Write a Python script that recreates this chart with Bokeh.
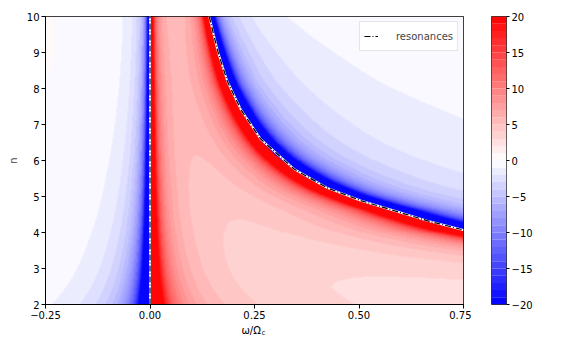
import numpy as np
from bokeh.plotting import figure
from bokeh.layouts import row, column
from bokeh.models import (LinearColorMapper, FixedTicker, Range1d, Legend, LegendItem)
from bokeh.core.properties import value
from bokeh.embed import file_html
from bokeh.resources import INLINE

# ---- resonance curve (n, omega/Omega_c) ----
res_n = [10.0, 9.0, 8.2, 7.43, 6.6, 5.77, 5.24, 4.89, 4.61, 4.33, 4.07]
res_w = [0.1416, 0.163, 0.185, 0.2167, 0.2644, 0.3439, 0.4237, 0.5033, 0.583, 0.6625, 0.75]
# the zero-frequency resonance
zero_n = [2.0, 10.0]
zero_w = [0.0, 0.0]
# estimated continuation of the resonance below the visible range (field only)
ext_n = [2.0, 2.5, 3.0, 3.5]
ext_w = [6.0, 3.3, 1.8, 1.1]

# field strength parameters (estimated from colour band widths)
amp_zero = 1.12                              # strength of the omega=0 pole ...
amp_zero_pow = 0.9                           # ... divided by n**pow
amp_n = [2.0, 4.0, 5.0, 6.0, 7.0, 10.0]     # strength of the second pole / its position
amp_v = [2.0, 1.8, 2.2, 2.3, 2.0, 1.8]
off_n = [2.0, 3.0, 5.0, 7.0, 10.0]           # background level
off_v = [-0.3, -0.45, -0.45, -0.2, -0.1]

x_ticks = [-0.25, 0.0, 0.25, 0.5, 0.75]
x_tick_labels = ["\u22120.25", "0.00", "0.25", "0.50", "0.75"]
y_ticks = [2, 3, 4, 5, 6, 7, 8, 9, 10]
cb_ticks = [-20, -15, -10, -5, 0, 5, 10, 15, 20]
cb_tick_labels = ["\u221220", "\u221215", "\u221210", "\u22125", "0", "5", "10", "15", "20"]
vmin, vmax, nlev = -20, 20, 40
x_label_main = "\u03c9/\u03a9"
x_label_sub = "c"
y_label = "n"
legend_label = "resonances"

FONT = "DejaVu Sans"

# ---- field ----
fn = np.array(ext_n + res_n[::-1])
finv = 1.0 / np.array(ext_w + res_w[::-1])
amp_fit = np.polyfit(amp_n, amp_v, 3)
off_fit = np.polyfit(off_n, off_v, 2)

nx, ny = 840, 580
xs = np.linspace(-0.25, 0.75, nx)
ys = np.linspace(2, 10, ny)
W, N = np.meshgrid(xs, ys)
xr = 1.0 / np.interp(N, fn, finv)
A = amp_zero / N ** amp_zero_pow
B = np.polyval(amp_fit, N) * xr
C = np.polyval(off_fit, N)
with np.errstate(divide="ignore", invalid="ignore"):
    Z = A / W + B / (xr - W) + C
Z = np.nan_to_num(Z, nan=0.0, posinf=1e3, neginf=-1e3)
Z = np.clip(Z, -19.999, 19.999)


def bwr(t):
    if t < 0.5:
        r = g = 2 * t
        b = 1.0
    else:
        r = 1.0
        g = b = 2 * (1 - t)
    return "#%02x%02x%02x" % (int(round(r * 255)), int(round(g * 255)), int(round(b * 255)))


levels = np.linspace(vmin, vmax, nlev + 1)
palette = [bwr((i + 0.5) / nlev) for i in range(nlev)]
mapper = LinearColorMapper(palette=palette, low=vmin, high=vmax)

BT, BB = 16, 19
H = BT + 288 + BB

# ---- main plot ----
p = figure(width=471, height=H, output_backend="svg", toolbar_location=None,
           x_range=Range1d(-0.25, 0.75), y_range=Range1d(2, 10),
           min_border_left=45, min_border_top=BT, min_border_bottom=BB, min_border_right=8)
p.image(image=[Z], x=-0.25, y=2, dw=1.0, dh=8, color_mapper=mapper)

p.line(zero_w, zero_n, line_color="white", line_width=2)
p.line(res_w, res_n, line_color="white", line_width=2)
r1 = p.line(zero_w, zero_n, line_color="black", line_width=1.2, line_dash="6 2 1 2")
r2 = p.line(res_w, res_n, line_color="black", line_width=1.2, line_dash="6 2 1 2")

legend = Legend(items=[LegendItem(label=legend_label, renderers=[r1])],
                location="top_right", margin=5, padding=4, glyph_width=14,
                label_standoff=18, label_text_font=FONT,
                label_text_font_size="10px", border_line_color="#cccccc",
                border_line_width=1, background_fill_alpha=0.9)
p.add_layout(legend, "center")

p.grid.visible = False
p.outline_line_color = "black"
p.outline_line_width = 1
for ax in (p.xaxis, p.yaxis):
    ax.major_label_text_font = FONT
    ax.major_label_text_font_size = "10px"
    ax.major_label_text_color = "black"
    ax.axis_line_color = "black"
    ax.major_tick_line_color = "black"
    ax.major_tick_in = 0
    ax.major_tick_out = 4
    ax.minor_tick_line_color = None
    ax.major_label_standoff = 2
p.xaxis.ticker = FixedTicker(ticks=x_ticks)
p.xaxis.major_label_overrides = dict(zip(x_ticks, x_tick_labels))
p.yaxis.ticker = FixedTicker(ticks=y_ticks)
p.yaxis.axis_label = y_label
p.yaxis.axis_label_text_font = FONT
p.yaxis.axis_label_text_font_size = "10px"
p.yaxis.axis_label_text_font_style = "normal"
p.yaxis.axis_label_standoff = 5

# ---- colour bar as its own small plot ----
pc = figure(width=75, height=H, output_backend="svg", toolbar_location=None,
            x_range=Range1d(0, 1), y_range=Range1d(vmin, vmax), y_axis_location="right",
            min_border_left=20, min_border_right=40, min_border_top=BT, min_border_bottom=BB)
pc.quad(left=0, right=1, bottom=levels[:-1], top=levels[1:], fill_color=palette, line_color=None)
pc.xaxis.visible = False
pc.grid.visible = False
pc.outline_line_color = "black"
pc.outline_line_width = 0.8
pc.yaxis.ticker = FixedTicker(ticks=cb_ticks)
pc.yaxis.major_label_overrides = dict(zip(cb_ticks, cb_tick_labels))
pc.yaxis.major_label_text_font = FONT
pc.yaxis.major_label_text_font_size = "10px"
pc.yaxis.major_label_text_color = "black"
pc.yaxis.axis_line_color = None
pc.yaxis.major_tick_line_color = "black"
pc.yaxis.major_tick_in = 0
pc.yaxis.major_tick_out = 3
pc.yaxis.minor_tick_line_color = None
pc.yaxis.major_label_standoff = 2

# ---- x axis title strip (to allow the subscript) ----
px = figure(width=471, height=18, output_backend="svg", toolbar_location=None,
            x_range=Range1d(-0.25, 0.75), y_range=Range1d(0, 18),
            min_border_left=45, min_border_right=8, min_border_top=0, min_border_bottom=0)
px.axis.visible = False
px.grid.visible = False
px.outline_line_color = None
px.text(x=[0.25], y=[11], text=[x_label_main], x_offset=-13, text_align="left",
        text_baseline="alphabetic", text_font=value(FONT), text_font_size="10px", text_color="black")
px.text(x=[0.25], y=[9], text=[x_label_sub], x_offset=7, text_align="left",
        text_baseline="alphabetic", text_font=value(FONT), text_font_size="7px", text_color="black")

layout = column(row(p, pc), px)
open("out.html", "w").write(file_html(layout, INLINE))
